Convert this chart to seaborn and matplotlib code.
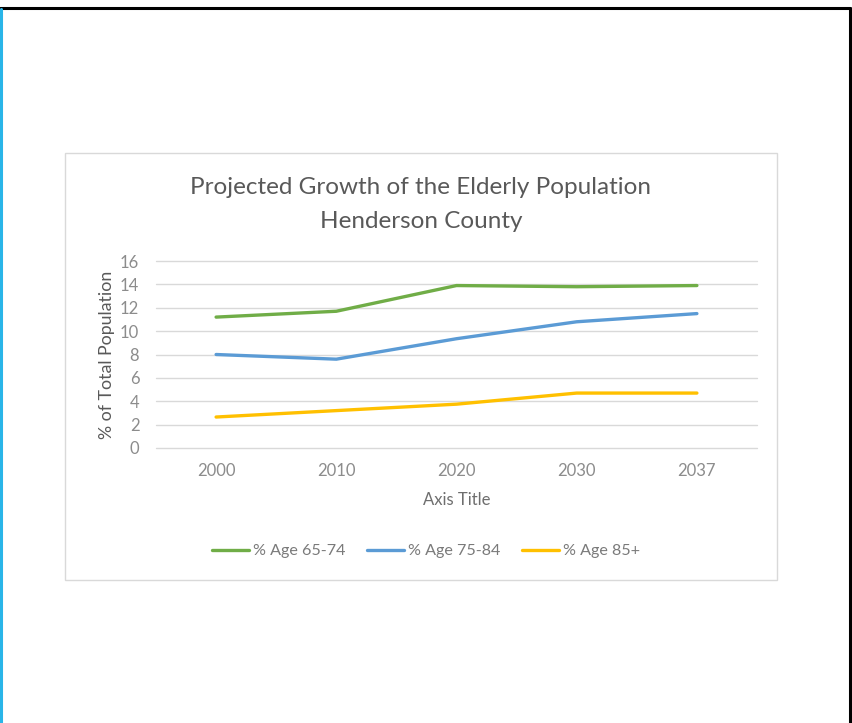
import matplotlib
matplotlib.use("Agg")
import matplotlib.pyplot as plt
import seaborn as sns
import pandas as pd
from matplotlib.patches import Rectangle
from matplotlib.lines import Line2D

years = ["2000", "2010", "2020", "2030", "2037"]
age_65_74 = [11.2, 11.7, 13.9, 13.8, 13.9]
age_75_84 = [8.0, 7.6, 9.35, 10.8, 11.5]
age_85_plus = [2.65, 3.2, 3.75, 4.7, 4.7]
series_names = ["% Age 65-74", "% Age 75-84", "% Age 85+"]
colors = ["#70ad47", "#5b9bd5", "#ffc000"]
y_ticks = [0, 2, 4, 6, 8, 10, 12, 14, 16]

rows = []
for name, vals in zip(series_names, [age_65_74, age_75_84, age_85_plus]):
    for yr, v in zip(years, vals):
        rows.append({"Year": yr, "Value": v, "Series": name})
df = pd.DataFrame(rows)

sns.set_theme(style="white")
plt.rcParams["font.family"] = ["Lato", "DejaVu Sans"]

W, H = 852, 723
fig = plt.figure(figsize=(W / 100, H / 100), dpi=100)
fig.patch.set_facecolor("white")

def fx(px):
    return px / W

def fy(py):
    return 1 - py / H

# outer frame: black top & right, blue left
fig.add_artist(Line2D([fx(0), fx(850)], [fy(8), fy(8)], color="black", lw=2.2, transform=fig.transFigure))
fig.add_artist(Line2D([fx(850), fx(850)], [fy(8), fy(723)], color="black", lw=2.2, transform=fig.transFigure))
fig.add_artist(Line2D([fx(1), fx(1)], [fy(9), fy(723)], color="#29b5e8", lw=2.2, transform=fig.transFigure))

# chart area box
fig.add_artist(Rectangle((fx(65), fy(580)), fx(777) - fx(65), fy(153) - fy(580),
                         fill=False, edgecolor="#d9d9d9", lw=1.0, transform=fig.transFigure))

ax = fig.add_axes([fx(156), fy(448), fx(757) - fx(156), fy(261) - fy(448)])
sns.lineplot(data=df, x="Year", y="Value", hue="Series", palette=colors,
             linewidth=2.4, sort=False, ax=ax, legend=False)

ax.set_xlim(-0.5, len(years) - 0.5)
ax.set_ylim(0, 16)
ax.set_yticks(y_ticks)
ax.set_yticklabels([str(t) for t in y_ticks])
ax.grid(axis="y", color="#d9d9d9", linewidth=1.0)
ax.grid(axis="x", visible=False)
for gl in ax.get_ygridlines():
    gl.set_clip_on(False)
ax.set_axisbelow(True)
for s in ax.spines.values():
    s.set_visible(False)
ax.tick_params(axis="both", length=0, labelsize=12, colors="#8c8c8c")
ax.tick_params(axis="x", pad=11)
ax.tick_params(axis="y", pad=12)
ax.set_xlabel("Axis Title", fontsize=12, color="#6e6e6e", labelpad=9)
ax.set_ylabel("% of Total Population", fontsize=12.8, color="#595959", labelpad=4)

fig.text(fx(421), fy(188), "Projected Growth of the Elderly Population",
         ha="center", va="center", fontsize=17.5, color="#595959")
fig.text(fx(421), fy(222), "Henderson County",
         ha="center", va="center", fontsize=17.5, color="#595959")

handles = [Line2D([0], [0], color=c, lw=2.4) for c in colors]
fig.legend(handles, series_names, loc="center", bbox_to_anchor=(fx(426), fy(551)),
           ncol=3, frameon=False, fontsize=11.6, labelcolor="#7a7a7a",
           handlelength=2.3, handletextpad=0.25, columnspacing=1.35)

fig.savefig("out.png", dpi=100, facecolor="white")
